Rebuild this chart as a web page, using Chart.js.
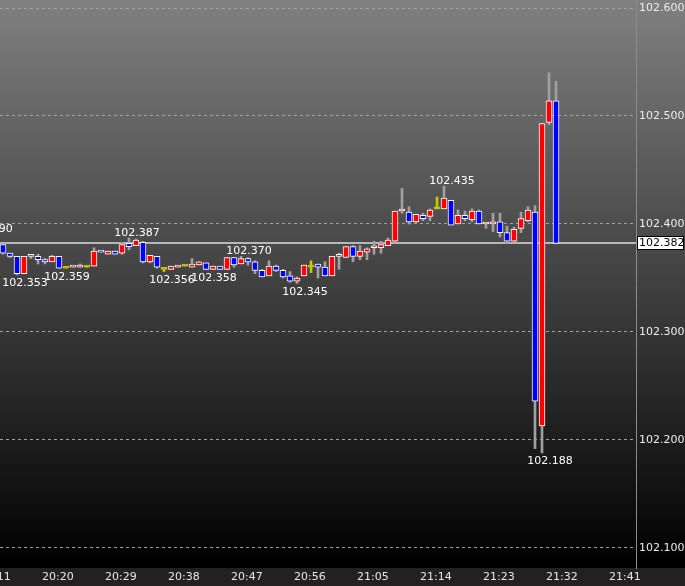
<!DOCTYPE html>
<html>
<head>
<meta charset="utf-8">
<script src="https://cdn.jsdelivr.net/npm/chart.js@4.4.1/dist/chart.umd.min.js"></script>
<style>
  html, body { margin: 0; padding: 0; background: #000; }
  canvas { display: block; }
</style>
</head>
<body>
<canvas id="chart" width="685" height="586"></canvas>
<script>
// one-minute candles, 20:15 .. 21:34
const times = [
  '20:15', '20:16', '20:17', '20:18', '20:19', '20:20', '20:21', '20:22', '20:23', '20:24',
  '20:25', '20:26', '20:27', '20:28', '20:29', '20:30', '20:31', '20:32', '20:33', '20:34',
  '20:35', '20:36', '20:37', '20:38', '20:39', '20:40', '20:41', '20:42', '20:43', '20:44',
  '20:45', '20:46', '20:47', '20:48', '20:49', '20:50', '20:51', '20:52', '20:53', '20:54',
  '20:55', '20:56', '20:57', '20:58', '20:59', '21:00', '21:01', '21:02', '21:03', '21:04',
  '21:05', '21:06', '21:07', '21:08', '21:09', '21:10', '21:11', '21:12', '21:13', '21:14',
  '21:15', '21:16', '21:17', '21:18', '21:19', '21:20', '21:21', '21:22', '21:23', '21:24',
  '21:25', '21:26', '21:27', '21:28', '21:29', '21:30', '21:31', '21:32', '21:33', '21:34'
];
const opens = [
  102.381, 102.373, 102.370, 102.354, 102.370, 102.370, 102.367, 102.365, 102.370, 102.359,
  102.360, 102.360, 102.360, 102.361, 102.375, 102.372, 102.375, 102.373, 102.382, 102.380,
  102.383, 102.365, 102.370, 102.358, 102.358, 102.360, 102.361, 102.360, 102.362, 102.364,
  102.358, 102.361, 102.358, 102.369, 102.363, 102.368, 102.365, 102.357, 102.352, 102.361,
  102.357, 102.352, 102.347, 102.352, 102.360, 102.363, 102.360, 102.352, 102.370, 102.369,
  102.379, 102.370, 102.374, 102.378, 102.378, 102.380, 102.384, 102.412, 102.411, 102.402,
  102.408, 102.407, 102.414, 102.414, 102.422, 102.400, 102.408, 102.404, 102.412, 102.400,
  102.400, 102.402, 102.392, 102.384, 102.396, 102.403, 102.411, 102.213, 102.494, 102.514
];
const highs = [
  102.382, 102.373, 102.370, 102.370, 102.372, 102.372, 102.368, 102.371, 102.370, 102.359,
  102.361, 102.363, 102.361, 102.378, 102.375, 102.375, 102.375, 102.383, 102.387, 102.386,
  102.384, 102.371, 102.370, 102.358, 102.361, 102.361, 102.362, 102.368, 102.365, 102.364,
  102.361, 102.361, 102.369, 102.369, 102.370, 102.369, 102.366, 102.358, 102.366, 102.362,
  102.358, 102.356, 102.351, 102.362, 102.366, 102.363, 102.365, 102.370, 102.373, 102.379,
  102.380, 102.380, 102.378, 102.384, 102.384, 102.387, 102.412, 102.433, 102.416, 102.409,
  102.410, 102.414, 102.425, 102.435, 102.422, 102.413, 102.412, 102.414, 102.413, 102.401,
  102.410, 102.410, 102.398, 102.397, 102.411, 102.416, 102.417, 102.493, 102.540, 102.532
];
const lows = [
  102.372, 102.369, 102.353, 102.354, 102.368, 102.363, 102.363, 102.365, 102.359, 102.359,
  102.360, 102.360, 102.360, 102.361, 102.374, 102.372, 102.372, 102.372, 102.376, 102.380,
  102.364, 102.364, 102.359, 102.356, 102.358, 102.360, 102.361, 102.360, 102.362, 102.358,
  102.358, 102.358, 102.358, 102.360, 102.363, 102.362, 102.354, 102.351, 102.352, 102.356,
  102.350, 102.346, 102.345, 102.352, 102.355, 102.350, 102.352, 102.352, 102.358, 102.369,
  102.365, 102.367, 102.367, 102.372, 102.373, 102.380, 102.383, 102.410, 102.400, 102.401,
  102.403, 102.403, 102.414, 102.414, 102.399, 102.400, 102.403, 102.402, 102.400, 102.396,
  102.393, 102.388, 102.382, 102.383, 102.392, 102.402, 102.192, 102.188, 102.492, 102.382
];
const closes = [
  102.373, 102.370, 102.354, 102.370, 102.371, 102.367, 102.365, 102.370, 102.359, 102.359,
  102.361, 102.361, 102.360, 102.375, 102.374, 102.375, 102.372, 102.381, 102.379, 102.385,
  102.365, 102.371, 102.360, 102.358, 102.361, 102.361, 102.361, 102.363, 102.365, 102.358,
  102.361, 102.358, 102.369, 102.362, 102.368, 102.365, 102.357, 102.351, 102.361, 102.357,
  102.351, 102.347, 102.350, 102.362, 102.360, 102.360, 102.352, 102.370, 102.371, 102.379,
  102.370, 102.375, 102.377, 102.379, 102.381, 102.385, 102.412, 102.413, 102.402, 102.409,
  102.405, 102.413, 102.414, 102.424, 102.399, 102.408, 102.405, 102.412, 102.400, 102.401,
  102.402, 102.392, 102.384, 102.395, 102.405, 102.413, 102.236, 102.493, 102.514, 102.382
];

// axis ticks
const xTickLabels = ['20:11', '20:20', '20:29', '20:38', '20:47', '20:56', '21:05', '21:14', '21:23', '21:32', '21:41'];
const yTickValues = [102.1, 102.2, 102.3, 102.4, 102.5, 102.6];

// swing high / low price marks
const markTimes = ['20:12', '20:17', '20:23', '20:33', '20:38', '20:44', '20:49', '20:57', '21:18', '21:32'];
const markValues = [102.390, 102.353, 102.359, 102.387, 102.356, 102.358, 102.370, 102.345, 102.435, 102.188];
const markSides = ['high', 'low', 'low', 'high', 'low', 'low', 'high', 'low', 'high', 'low'];

const BULL = '#ff0000';
const BEAR = '#0000ff';
const DOJI = '#c8c800';
const WICK = '#a0a0a0';
const FONT = '"DejaVu Sans", sans-serif';

function toMin(t) {
  const [h, m] = t.split(':').map(Number);
  return h * 60 + m;
}

function bodyColor(i) {
  if (i === undefined) return BULL;
  if (opens[i] === closes[i]) return DOJI;
  return closes[i] > opens[i] ? BULL : BEAR;
}

const bodies = times.map((t, i) => ({ x: toMin(t), y: [Math.min(opens[i], closes[i]), Math.max(opens[i], closes[i])] }));
const wicks = times.map((t, i) => ({ x: toMin(t), y: [lows[i], highs[i]] }));

// 7px per minute, plot area 636px wide
const xMin = toMin('20:20') - 38 / 7;
const xMax = xMin + 636 / 7;
// 108px per 0.1, 102.4 at y=224, plot 568px tall
const yMax = 102.4 + 224 / 1080;
const yMin = yMax - 568 / 1080;

const backdrop = {
  id: 'backdrop',
  beforeDraw(chart) {
    const { ctx, width, height, chartArea } = chart;
    ctx.save();
    const g = ctx.createLinearGradient(0, 0, 0, chartArea.bottom);
    g.addColorStop(0, '#808080');
    g.addColorStop(1, '#000000');
    ctx.fillStyle = g;
    ctx.fillRect(0, 0, width, chartArea.bottom);
    ctx.fillStyle = '#222020';
    ctx.fillRect(0, chartArea.bottom, width, height - chartArea.bottom);
    ctx.restore();
  }
};

const priceLine = {
  id: 'priceLine',
  beforeDatasetsDraw(chart) {
    const { ctx, chartArea, scales } = chart;
    const py = Math.round(scales.y.getPixelForValue(closes[closes.length - 1]));
    ctx.save();
    ctx.fillStyle = '#b8b8b8';
    ctx.fillRect(chartArea.left, py - 1, chartArea.right - chartArea.left, 2);
    ctx.restore();
  },
  afterDraw(chart) {
    const { ctx, chartArea, scales } = chart;
    const last = closes[closes.length - 1];
    const py = Math.round(scales.y.getPixelForValue(last));
    ctx.save();
    ctx.fillStyle = '#ffffff';
    ctx.fillRect(chartArea.right + 1, py - 7, 47, 14);
    ctx.strokeStyle = '#000000';
    ctx.lineWidth = 1;
    ctx.strokeRect(chartArea.right + 1.5, py - 6.5, 46, 13);
    ctx.fillStyle = '#000000';
    ctx.font = '11px ' + FONT;
    ctx.textAlign = 'left';
    ctx.textBaseline = 'middle';
    ctx.fillText(last.toFixed(3), chartArea.right + 3, py + 0.5);
    ctx.restore();
  }
};

const marks = {
  id: 'marks',
  afterDatasetsDraw(chart) {
    const { ctx, scales } = chart;
    ctx.save();
    ctx.font = '11px ' + FONT;
    ctx.fillStyle = '#ffffff';
    ctx.textAlign = 'center';
    ctx.textBaseline = 'alphabetic';
    markTimes.forEach((t, i) => {
      const px = scales.x.getPixelForValue(toMin(t)) + 8;
      const py = scales.y.getPixelForValue(markValues[i]);
      const ty = markSides[i] === 'high' ? py - 2.5 : py + 11.5;
      ctx.fillText(markValues[i].toFixed(3), px, ty);
    });
    ctx.restore();
  }
};

new Chart(document.getElementById('chart'), {
  type: 'bar',
  data: {
    datasets: [
      {
        label: 'Body',
        data: bodies,
        order: 1,
        grouped: false,
        barThickness: 6,
        minBarLength: 2,
        borderWidth: 1,
        borderSkipped: false,
        backgroundColor: ctx => bodyColor(ctx.dataIndex),
        borderColor: ctx => (bodyColor(ctx.dataIndex) === DOJI ? DOJI : '#ffffff')
      },
      {
        label: 'Wick',
        data: wicks,
        order: 2,
        grouped: false,
        barThickness: 2,
        borderWidth: 0,
        backgroundColor: ctx => (bodyColor(ctx.dataIndex) === DOJI ? DOJI : WICK)
      }
    ]
  },
  options: {
    responsive: false,
    animation: false,
    devicePixelRatio: 1,
    layout: { padding: 0 },
    plugins: { legend: { display: false }, tooltip: { enabled: false } },
    scales: {
      x: {
        type: 'linear',
        bounds: 'data',
        offset: false,
        min: xMin,
        max: xMax,
        grid: { display: false, drawTicks: false, offset: false },
        border: { display: false },
        ticks: {
          autoSkip: false,
          maxRotation: 0,
          minRotation: 0,
          align: 'start',
          labelOffset: 4,
          padding: 3,
          color: '#e6e6e6',
          font: { family: FONT, size: 11 },
          callback: v => {
            const i = xTickLabels.findIndex(t => toMin(t) === v);
            return i >= 0 ? xTickLabels[i] : '';
          }
        },
        afterBuildTicks: axis => { axis.ticks = xTickLabels.map(t => ({ value: toMin(t) })); },
        afterFit: axis => { axis.height = 18; axis.paddingLeft = 0; axis.paddingRight = 0; }
      },
      y: {
        type: 'linear',
        position: 'right',
        bounds: 'data',
        min: yMin,
        max: yMax,
        grid: { color: '#a0a0a0', lineWidth: 1, drawTicks: false },
        border: { display: true, color: '#8c8c8c', width: 1, dash: [3, 3] },
        ticks: {
          padding: 3,
          color: '#ececec',
          font: { family: FONT, size: 11 },
          callback: v => v.toFixed(3)
        },
        afterBuildTicks: axis => { axis.ticks = yTickValues.map(v => ({ value: v })); },
        afterFit: axis => { axis.width = 49; axis.paddingTop = 0; axis.paddingBottom = 0; }
      }
    }
  },
  plugins: [backdrop, priceLine, marks]
});
</script>
</body>
</html>
